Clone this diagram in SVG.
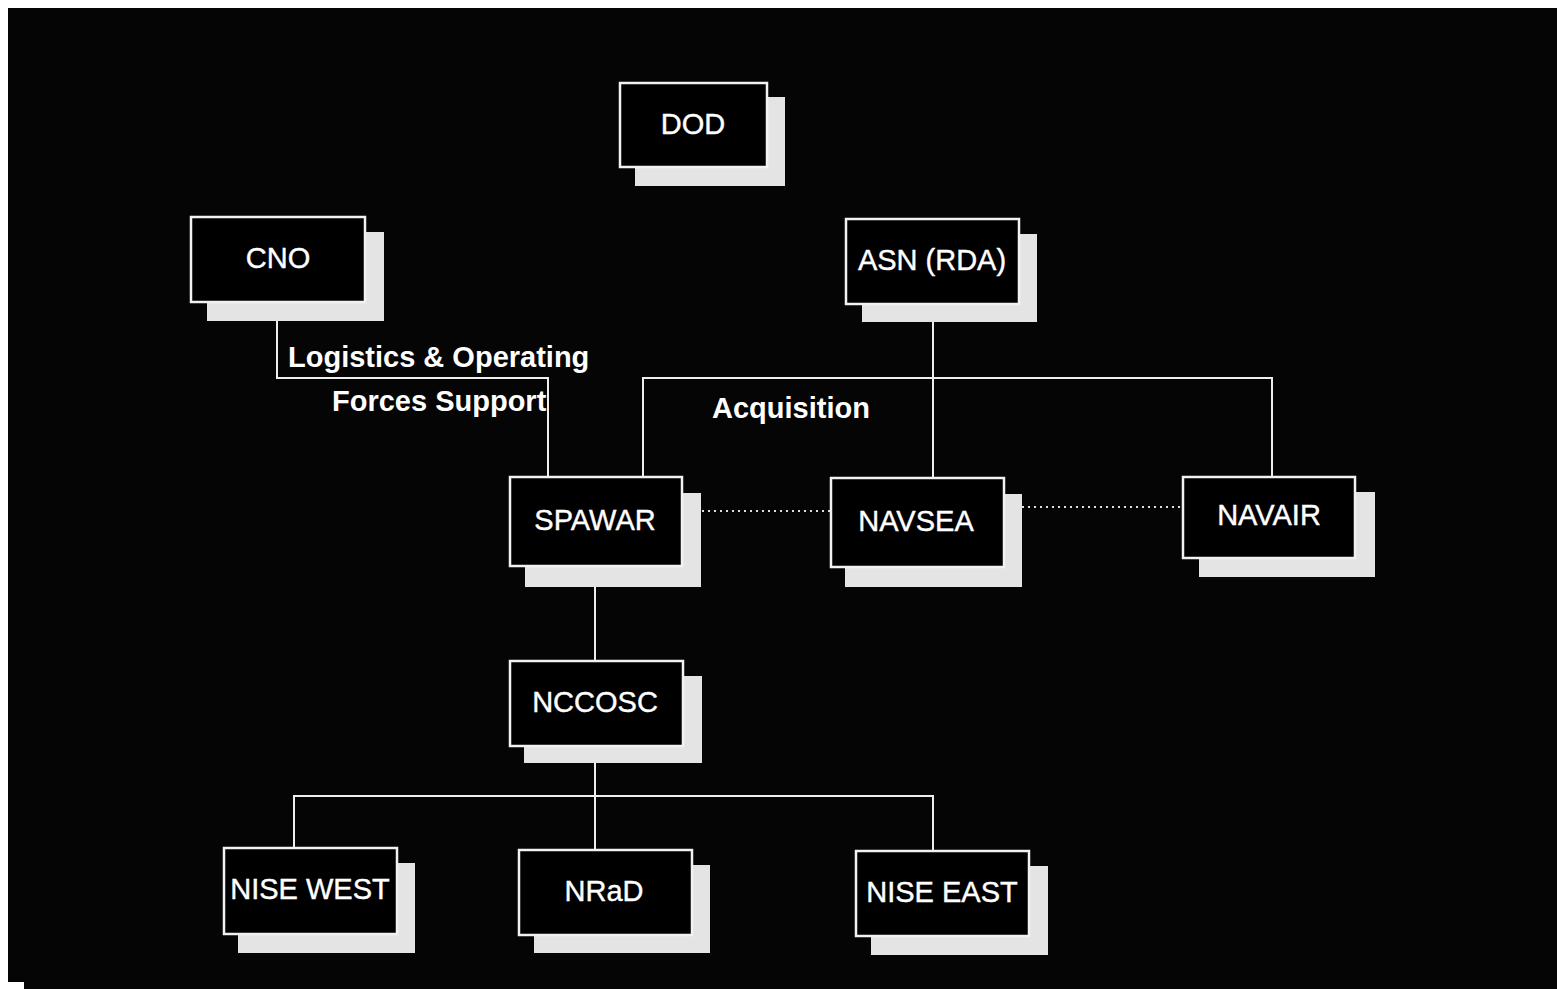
<svg xmlns="http://www.w3.org/2000/svg" width="1557" height="989" viewBox="0 0 1557 989">
<style>
.shadow{fill:#e4e4e4}
.box{fill:#000;stroke:#f2f2f2;stroke-width:2.5}
.t{font-family:"Liberation Sans",Arial,sans-serif;font-size:29px;fill:#fff;text-anchor:middle;stroke:#fff;stroke-width:0.4}
.lbl{font-family:"Liberation Sans",Arial,sans-serif;font-size:29px;font-weight:bold;fill:#fff}
.ln{stroke:#eeeeee;stroke-width:2;fill:none}
.dot{stroke:#dddddd;stroke-width:2;fill:none;stroke-dasharray:2 4}
</style>
<rect x="0" y="0" width="1557" height="989" fill="#ffffff"/>
<rect x="8" y="8" width="1549" height="981" fill="#050505"/>
<rect x="0" y="982" width="24" height="7" fill="#ffffff"/>
<g id="connectors">
<polyline class="ln" points="277,321 277,378 548,378 548,477"/>
<line class="ln" x1="933" y1="322" x2="933" y2="478"/>
<polyline class="ln" points="643,477 643,378 1272,378 1272,477"/>
<line class="ln" x1="595" y1="587" x2="595" y2="661"/>
<line class="ln" x1="595" y1="763" x2="595" y2="850"/>
<polyline class="ln" points="294,848 294,796 933,796 933,851"/>
<line class="dot" x1="702" y1="511" x2="831" y2="511"/>
<line class="dot" x1="1022" y1="507" x2="1183" y2="507"/>
</g>
<g id="DOD">
<rect class="shadow" x="635" y="97" width="150" height="89"/>
<rect class="box" x="620" y="83" width="147" height="84"/>
<text class="t" x="693" y="134">DOD</text>
</g>
<g id="CNO">
<rect class="shadow" x="207" y="232" width="177" height="89"/>
<rect class="box" x="191" y="217" width="174" height="85"/>
<text class="t" x="278" y="268">CNO</text>
</g>
<g id="ASN">
<rect class="shadow" x="862" y="234" width="175" height="88"/>
<rect class="box" x="846" y="219" width="173" height="85"/>
<text class="t" x="932" y="270">ASN (RDA)</text>
</g>
<g id="SPAWAR">
<rect class="shadow" x="525" y="493" width="176" height="94"/>
<rect class="box" x="510" y="477" width="172" height="89"/>
<text class="t" x="595" y="530">SPAWAR</text>
</g>
<g id="NAVSEA">
<rect class="shadow" x="845" y="494" width="177" height="93"/>
<rect class="box" x="831" y="478" width="173" height="89"/>
<text class="t" x="916" y="531">NAVSEA</text>
</g>
<g id="NAVAIR">
<rect class="shadow" x="1199" y="492" width="176" height="85"/>
<rect class="box" x="1183" y="477" width="172" height="81"/>
<text class="t" x="1269" y="525">NAVAIR</text>
</g>
<g id="NCCOSC">
<rect class="shadow" x="524" y="676" width="178" height="87"/>
<rect class="box" x="510" y="661" width="173" height="85"/>
<text class="t" x="595" y="712">NCCOSC</text>
</g>
<g id="NISE_WEST">
<rect class="shadow" x="238" y="863" width="177" height="90"/>
<rect class="box" x="224" y="848" width="173" height="86"/>
<text class="t" x="310" y="899">NISE WEST</text>
</g>
<g id="NRaD">
<rect class="shadow" x="534" y="865" width="176" height="88"/>
<rect class="box" x="519" y="850" width="173" height="85"/>
<text class="t" x="604" y="901">NRaD</text>
</g>
<g id="NISE_EAST">
<rect class="shadow" x="871" y="866" width="177" height="89"/>
<rect class="box" x="856" y="851" width="173" height="85"/>
<text class="t" x="942" y="902">NISE EAST</text>
</g>
<g id="labels">
<text class="lbl" x="288" y="367">Logistics &amp; Operating</text>
<text class="lbl" x="332" y="411">Forces Support</text>
<text class="lbl" x="712" y="418">Acquisition</text>
</g>
</svg>
